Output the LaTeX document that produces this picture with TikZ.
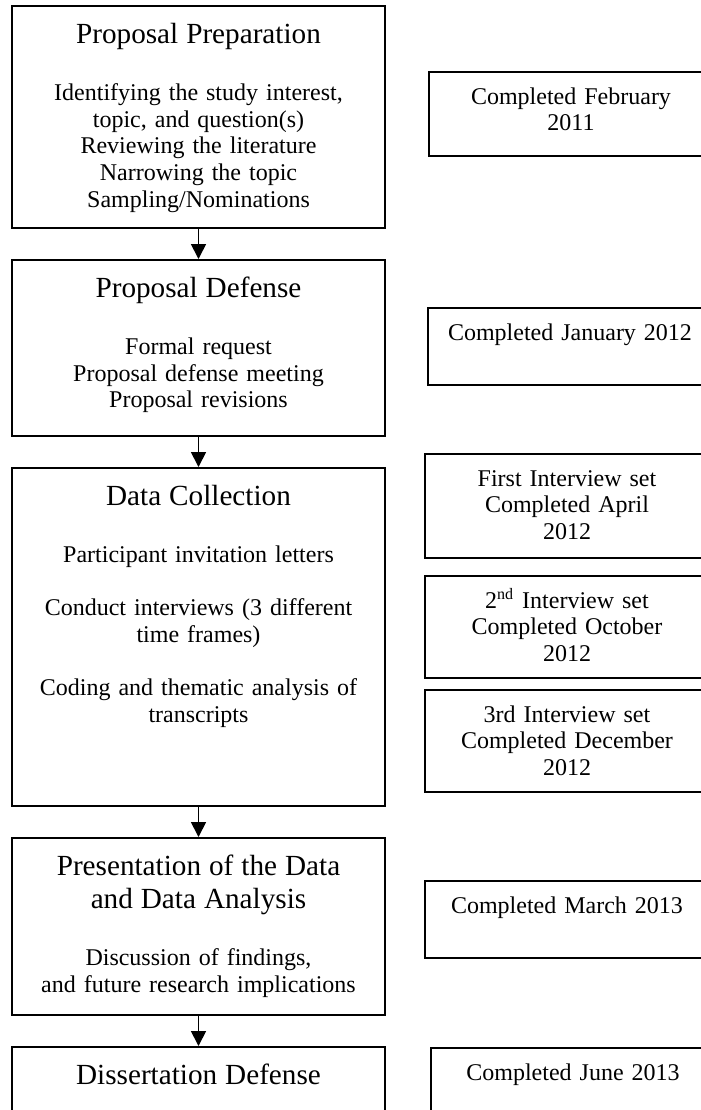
\documentclass[tikz,border=0pt]{standalone}
\usepackage{fontspec}
\setmainfont{Liberation Serif}
\usetikzlibrary{chains,positioning,arrows.meta}
\newcommand{\bodyfont}{\fontsize{12}{13.3}\selectfont}
\newcommand{\stagetitle}[1]{{\fontsize{14.6}{16.5}\selectfont #1\par}\vspace{15.5pt}}

\begin{document}
\begin{tikzpicture}[
	x=0.5pt,y=-0.5pt,
	flow/.style={
		-{Triangle[width=7.5pt,length=7.5pt]},
		line width=0.9pt
	},
	stage/.style={
		draw,
		line width=1pt,
		text width=176pt,
		minimum width=186.5pt,
		inner xsep=0pt,
		inner ysep=0pt,
		align=center,
		font=\bodyfont,
		text height=18.5pt,
		on chain,
		join=by flow
	},
	datebox/.style={
		draw,
		line width=1pt,
		text width=142pt,
		minimum width=142pt,
		inner xsep=0pt,
		inner ysep=0pt,
		align=center,
		font=\bodyfont,
		anchor=north west,
		text height=16pt
	},
	start chain=going below,node distance=15pt
	]
	\useasboundingbox (0,0) rectangle (701,1110);
	\clip (0,0) rectangle (701,1110);

	% stages
	\node[stage,anchor=north,text depth=92.5pt] at (198.5,5) (prep)
	{\stagetitle{Proposal Preparation}
	Identifying the study interest,\\ topic, and question(s)\\ Reviewing the literature\\ Narrowing the topic\\ Sampling/Nominations};
	\node[stage,text depth=69.5pt] (defense)
	{\stagetitle{Proposal Defense}
	Formal request\\ Proposal defense meeting\\ Proposal revisions};
	\node[stage,text depth=150.5pt] (collect)
	{\stagetitle{Data Collection}
	Participant invitation letters\\[13.3pt]
	Conduct interviews (3 different\\ time frames)\\[13.3pt]
	Coding and thematic analysis of\\ transcripts};
	\node[stage,text depth=70pt] (present)
	{\stagetitle{Presentation of the Data\\ and Data Analysis}
	Discussion of findings,\\ and future research implications};
	\node[stage,text depth=42pt] (diss)
	{{\fontsize{14.6}{16.5}\selectfont Dissertation Defense}};

	% completion dates
	\node[datebox,text depth=26pt] at (428,71) (feb) {Completed February\\ 2011};
	\node[datebox,text depth=22.5pt] at (427,307) (jan) {Completed January 2012};
	\node[datebox,text depth=36pt] at (424,453) (apr) {First Interview set\\ Completed April\\ 2012};
	\node[datebox,text depth=35pt] at (424,575) (oct) {2\textsuperscript{nd} Interview set\\ Completed October\\ 2012};
	\node[datebox,text depth=35pt] at (424,689) (dec) {3rd Interview set\\ Completed December\\ 2012};
	\node[datebox,text depth=22.5pt] at (424,880) (mar) {Completed March 2013};
	\node[datebox,text depth=40pt] at (430,1047) (jun) {Completed June 2013};
\end{tikzpicture}
\end{document}
